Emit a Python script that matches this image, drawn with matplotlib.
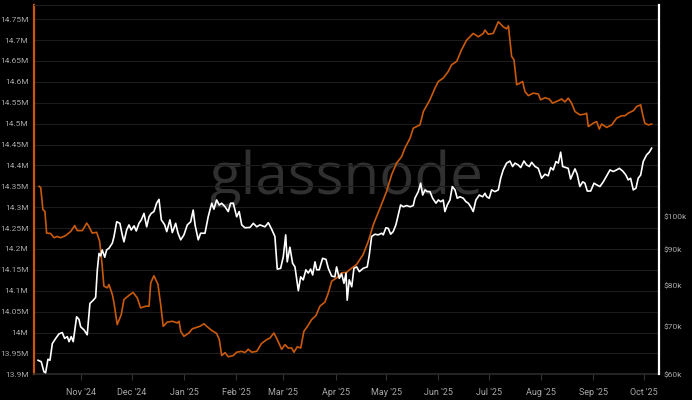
import numpy as np
import pandas as pd
import matplotlib
matplotlib.use("Agg")
import matplotlib.pyplot as plt
from matplotlib.ticker import FixedLocator, NullLocator

START = pd.Timestamp("2024-10-04")

# Orange series: supply metric (millions), days since START
supply_days = [3.0, 4.0, 5.3, 6.5, 7.5, 9.9, 11.9, 13.8, 15.8, 18.8, 21.8, 24.2, 25.7, 28.7,
               31.3, 32.6, 34.6, 37.2, 39.0, 40.5, 41.5, 43.5, 44.5, 46.5, 47.5, 49.4, 51.8,
               53.4, 56.4, 58.8, 61.3, 63.3, 66.3, 68.3, 69.3, 71.2, 73.6, 75.2, 76.7, 79.1,
               82.1, 85.0, 86.1, 87.1, 89.0, 92.0, 94.0, 98.5, 100.9, 102.5, 105.5, 108.4,
               110.0, 111.4, 113.4, 115.3, 118.3, 120.3, 123.3, 125.2, 127.2, 129.2, 132.2,
               135.1, 138.1, 140.1, 142.4, 144.4, 147.0, 149.0, 150.9, 152.9, 154.3, 156.3,
               158.3, 160.2, 162.2, 164.8, 167.4, 169.7, 172.7, 174.7, 176.7, 179.7, 182.6,
               185.6, 187.5, 191.5, 195.4, 198.4, 201.4, 205.4, 209.3, 212.3, 215.3, 218.2,
               220.2, 223.2, 225.1, 227.1, 229.1, 231.1, 235.0, 238.0, 240.0, 242.9, 245.9,
               247.9, 250.9, 253.8, 256.8, 260.7, 263.7, 266.7, 267.7, 269.6, 272.6, 275.6,
               278.5, 280.5, 281.6, 283.5, 284.9, 286.5, 288.4, 290.0, 291.4, 293.4, 296.3,
               299.3, 300.7, 303.3, 305.8, 307.8, 311.2, 313.2, 315.1, 317.1, 319.1, 321.1,
               324.0, 327.0, 328.0, 329.0, 331.9, 334.0, 335.5, 336.9, 339.9, 342.9, 345.8,
               348.8, 350.8, 352.7, 355.7, 357.7, 360.1, 361.3, 362.6, 364.6, 366.6]
supply_m = [14.350, 14.347, 14.294, 14.290, 14.238, 14.237, 14.227, 14.230, 14.227, 14.232,
            14.242, 14.256, 14.244, 14.244, 14.262, 14.254, 14.238, 14.240, 14.218, 14.159,
            14.111, 14.107, 14.115, 14.091, 14.071, 14.019, 14.043, 14.079, 14.089, 14.096,
            14.083, 14.059, 14.063, 14.063, 14.119, 14.136, 14.115, 14.067, 14.015, 14.025,
            14.027, 14.023, 14.027, 14.003, 13.991, 13.999, 14.009, 14.015, 14.021, 14.015,
            14.005, 13.998, 13.983, 13.945, 13.952, 13.942, 13.945, 13.953, 13.955, 13.952,
            13.960, 13.953, 13.955, 13.974, 13.983, 13.987, 13.999, 13.983, 13.960, 13.971,
            13.963, 13.963, 13.953, 13.966, 13.963, 14.003, 14.014, 14.031, 14.041, 14.063,
            14.073, 14.095, 14.123, 14.131, 14.143, 14.144, 14.151, 14.163, 14.187, 14.218,
            14.258, 14.298, 14.338, 14.378, 14.406, 14.421, 14.442, 14.465, 14.489, 14.493,
            14.497, 14.529, 14.557, 14.585, 14.601, 14.609, 14.625, 14.641, 14.649, 14.677,
            14.700, 14.716, 14.708, 14.716, 14.724, 14.714, 14.716, 14.744, 14.732, 14.727,
            14.734, 14.661, 14.653, 14.593, 14.597, 14.601, 14.577, 14.567, 14.573, 14.571,
            14.557, 14.562, 14.559, 14.549, 14.555, 14.559, 14.552, 14.561, 14.549, 14.529,
            14.521, 14.523, 14.525, 14.493, 14.501, 14.505, 14.487, 14.499, 14.491, 14.497,
            14.513, 14.519, 14.519, 14.525, 14.531, 14.541, 14.545, 14.521, 14.501, 14.497,
            14.499]

# White series: BTC price (thousand USD), days since START
price_days = [2.4, 4.3, 5.9, 6.9, 8.3, 9.5, 10.9, 12.9, 14.8, 16.8, 18.2, 19.8, 20.8, 22.1,
              23.3, 25.3, 26.7, 27.7, 29.7, 31.6, 33.2, 35.2, 36.6, 37.6, 38.6, 39.6, 40.5,
              42.0, 43.1, 44.5, 46.5, 47.5, 49.1, 51.0, 52.4, 53.4, 55.0, 56.4, 57.7, 59.4,
              60.7, 62.3, 63.7, 65.3, 66.9, 68.3, 69.6, 71.2, 72.8, 74.2, 75.6, 77.6, 78.8,
              80.7, 82.1, 84.1, 85.5, 87.1, 89.0, 91.0, 93.0, 94.5, 95.6, 97.5, 98.9, 101.5,
              103.4, 105.5, 106.8, 108.4, 110.0, 111.4, 113.4, 115.3, 116.7, 118.3, 120.3,
              121.8, 123.3, 125.2, 128.2, 130.2, 132.2, 134.1, 137.1, 139.1, 141.1, 143.0,
              144.4, 146.4, 148.0, 149.4, 150.3, 151.9, 153.5, 154.9, 156.9, 158.3, 159.8,
              161.4, 162.8, 164.2, 165.4, 166.8, 167.8, 169.3, 171.3, 173.3, 174.7, 176.7,
              178.6, 179.6, 181.2, 182.6, 184.0, 185.2, 185.9, 187.1, 188.6, 189.9, 191.5,
              193.1, 195.4, 197.8, 199.0, 200.4, 202.4, 204.3, 206.4, 207.3, 208.9, 210.3,
              211.7, 213.2, 214.8, 216.2, 217.6, 219.2, 221.2, 223.2, 225.1, 226.1, 228.1,
              229.5, 230.7, 232.1, 233.4, 235.0, 236.6, 238.6, 240.0, 241.4, 242.9, 243.9,
              245.3, 246.9, 248.3, 249.9, 251.2, 252.8, 254.8, 256.4, 257.8, 259.2, 260.7,
              262.3, 264.3, 266.3, 267.7, 268.7, 270.2, 271.6, 273.6, 275.6, 277.0, 278.5,
              280.5, 282.5, 284.1, 285.5, 287.4, 288.9, 290.8, 292.4, 294.0, 295.4, 297.4,
              299.3, 301.3, 303.3, 305.2, 306.7, 308.2, 309.8, 311.2, 312.6, 313.8, 315.7,
              317.1, 318.5, 319.7, 321.1, 322.4, 324.0, 325.7, 327.0, 328.4, 330.4, 332.4,
              334.0, 335.9, 337.9, 339.9, 341.9, 343.8, 345.8, 347.4, 349.4, 351.3, 352.7,
              354.1, 355.7, 357.3, 358.6, 360.1, 361.6, 363.6, 365.2, 366.6]
price_k = [62.8, 62.5, 60.5, 60.3, 63.0, 62.8, 66.3, 67.4, 68.4, 68.7, 67.4, 67.8, 66.7, 67.8,
           66.7, 72.3, 71.7, 70.0, 69.3, 68.2, 75.5, 76.3, 77.0, 84.2, 88.8, 88.1, 89.8, 87.7,
           89.8, 90.3, 91.8, 93.8, 98.4, 97.9, 94.3, 92.2, 95.8, 97.4, 95.8, 97.1, 95.5, 97.9,
           99.0, 101.1, 96.8, 100.0, 101.1, 101.7, 104.5, 105.8, 99.0, 97.4, 95.3, 99.0, 95.0,
           97.9, 94.8, 92.8, 94.3, 97.4, 98.4, 102.2, 97.4, 92.8, 94.8, 94.8, 100.0, 104.5,
           102.5, 105.6, 103.9, 104.5, 103.3, 101.7, 104.5, 104.5, 100.0, 101.7, 97.4, 96.5,
           96.6, 97.9, 96.8, 97.4, 96.8, 98.1, 96.0, 93.8, 84.4, 84.6, 87.9, 94.3, 86.4, 90.6,
           86.0, 85.0, 78.7, 82.3, 81.5, 84.2, 83.3, 84.4, 82.8, 86.4, 84.2, 84.2, 87.4, 87.1,
           84.6, 82.5, 82.3, 85.0, 81.9, 83.1, 80.6, 83.3, 76.3, 81.5, 79.7, 84.6, 85.0, 83.7,
           84.6, 85.0, 88.3, 93.8, 94.5, 94.3, 94.8, 94.3, 96.5, 96.3, 94.5, 95.3, 97.4, 100.6,
           103.9, 103.3, 103.7, 103.3, 103.7, 106.2, 108.5, 111.5, 107.3, 109.1, 108.5, 108.5,
           106.2, 104.5, 105.6, 105.0, 105.6, 101.7, 103.9, 105.6, 110.3, 109.1, 106.2, 106.7,
           106.2, 105.0, 104.5, 103.3, 101.7, 105.6, 107.3, 106.7, 107.9, 106.7, 106.2, 109.1,
           108.5, 109.1, 113.3, 116.4, 119.0, 119.8, 117.7, 119.0, 118.3, 117.3, 119.8, 118.3,
           117.7, 119.3, 117.7, 117.0, 113.3, 114.8, 114.2, 117.3, 116.4, 119.6, 119.0, 123.3,
           117.7, 117.3, 117.0, 113.0, 114.8, 116.8, 114.8, 110.3, 112.0, 111.5, 108.7, 108.7,
           111.5, 110.9, 110.3, 112.0, 114.2, 116.4, 115.8, 116.4, 117.0, 116.0, 114.5, 112.7,
           113.3, 109.1, 109.7, 113.3, 114.5, 119.6, 122.2, 123.3, 124.9]

left_ticks = [13.9, 13.95, 14.0, 14.05, 14.1, 14.15, 14.2, 14.25, 14.3, 14.35,
              14.4, 14.45, 14.5, 14.55, 14.6, 14.65, 14.7, 14.75]
left_labels = ["13.9M", "13.95M", "14M", "14.05M", "14.1M", "14.15M", "14.2M", "14.25M",
               "14.3M", "14.35M", "14.4M", "14.45M", "14.5M", "14.55M", "14.6M", "14.65M",
               "14.7M", "14.75M"]
right_ticks = [60000, 70000, 80000, 90000, 100000]
right_labels = ["$60k", "$70k", "$80k", "$90k", "$100k"]
month_ticks = pd.date_range("2024-11-01", "2025-10-01", freq="MS")

ORANGE = "#c95a0c"
LABEL = "#a8a8a8"
plt.rcParams["font.family"] = ["Roboto", "DejaVu Sans"]

supply_dates = START + pd.to_timedelta(supply_days, unit="D")
price_dates = START + pd.to_timedelta(price_days, unit="D")

fig = plt.figure(figsize=(6.92, 4.0), dpi=100, facecolor="black")
ax = fig.add_axes([0.0491, 0.0642, 0.9028, 0.9233], facecolor="black")
ax2 = ax.twinx()

# watermark behind the lines
ax.text(0.5, 0.53, "glassnode", transform=ax.transAxes, ha="center", va="center",
        fontsize=42, color="#303030", family=["Open Sans", "DejaVu Sans"], zorder=0)

ax.plot(supply_dates, supply_m, color=ORANGE, lw=1.2, zorder=3)
ax2.plot(price_dates, np.array(price_k) * 1000, color="white", lw=1.2, zorder=3)

ax.set_xlim(START, START + pd.Timedelta(days=370.8))
ax.set_ylim(13.9, 14.784)
ax2.set_yscale("log")
ax2.set_ylim(60000, 198700)

ax.set_yticks(left_ticks)
ax.set_yticklabels(left_labels)
ax.yaxis.set_minor_locator(NullLocator())
ax2.yaxis.set_major_locator(FixedLocator(right_ticks))
ax2.yaxis.set_minor_locator(NullLocator())
ax2.set_yticklabels(right_labels)

ax.set_xticks(month_ticks)
ax.set_xticklabels([d.strftime("%b '%y") for d in month_ticks])

ax.grid(axis="y", color="#1c1c1c", lw=0.8)
ax.set_axisbelow(True)

ax.tick_params(axis="y", length=0, pad=4, labelsize=6.0, labelcolor=LABEL)
ax.tick_params(axis="x", length=4, width=0.8, color="#333333", pad=6,
               labelsize=6.5, labelcolor=LABEL)
ax2.tick_params(axis="y", length=0, pad=3.5, labelsize=6.0, labelcolor=LABEL)

for a in (ax, ax2):
    for s in a.spines.values():
        s.set_visible(False)
ax.spines["left"].set_visible(True)
ax.spines["left"].set_color(ORANGE)
ax.spines["left"].set_linewidth(1.6)
ax.spines["bottom"].set_visible(True)
ax.spines["bottom"].set_color("#2a2a2a")
ax.spines["bottom"].set_linewidth(1.2)
ax.spines["top"].set_visible(True)
ax.spines["top"].set_color("#1c1c1c")
ax2.spines["right"].set_visible(True)
ax2.spines["right"].set_color("white")
ax2.spines["right"].set_linewidth(1.6)

fig.savefig("out.png", dpi=100, facecolor="black")
